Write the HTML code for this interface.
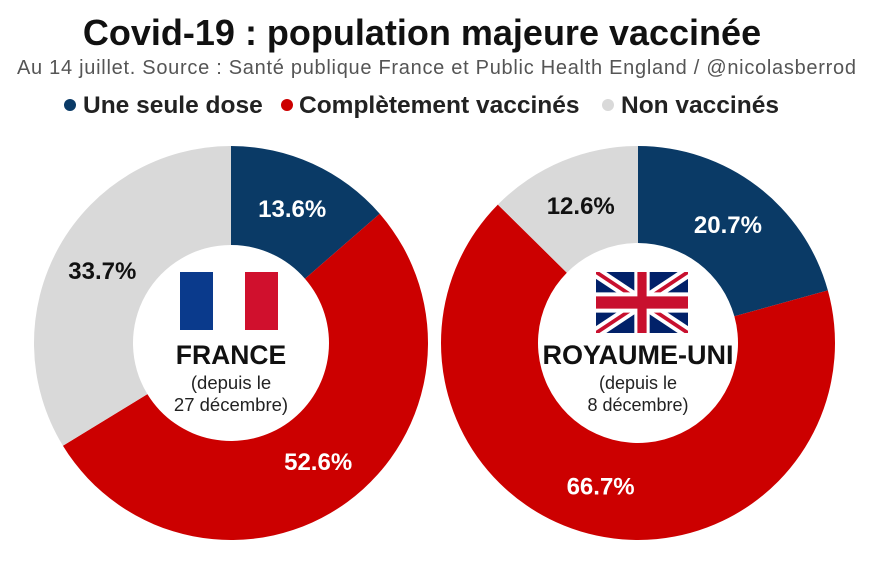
<!DOCTYPE html>
<html><head><meta charset="utf-8"><style>
body{margin:0;background:#fff;width:873px;height:556px;overflow:hidden;font-family:"Liberation Sans",Arial,sans-serif}
</style></head><body>
<svg width="873" height="556" font-family="Liberation Sans, Arial, sans-serif">
<text x="422" y="45" text-anchor="middle" font-size="36" font-weight="bold" fill="#111">Covid-19 : population majeure vaccinée</text>
<text x="17" y="74" font-size="20" textLength="839" lengthAdjust="spacing" fill="#555">Au 14 juillet. Source : Santé publique France et Public Health England / @nicolasberrod</text>
<g font-size="24.5" font-weight="bold" fill="#222">
<circle cx="70" cy="105" r="6" fill="#0a3a66"/>
<text x="83" y="113">Une seule dose</text>
<circle cx="287" cy="105" r="6" fill="#cc0000"/>
<text x="299" y="113">Complètement vaccinés</text>
<circle cx="608" cy="105" r="6" fill="#d9d9d9"/>
<text x="621" y="113">Non vaccinés</text>
</g>
<g id="donuts"></g>
<g>
<rect x="180" y="272" width="33" height="58" fill="#0a3a8c"/><rect x="213" y="272" width="32" height="58" fill="#fff"/><rect x="245" y="272" width="33" height="58" fill="#d0102d"/>
<text x="231" y="364" text-anchor="middle" font-size="26.5" font-weight="bold" fill="#111">FRANCE</text>
<text x="231" y="389" text-anchor="middle" font-size="18.5" fill="#222">(depuis le</text>
<text x="231" y="411" text-anchor="middle" font-size="18.5" fill="#222">27 décembre)</text>
</g>
<g>
<svg x="596" y="272" width="92" height="61" viewBox="0 0 60 30" preserveAspectRatio="none">
<rect width="60" height="30" fill="#012169"/>
<path d="M0,0 L60,30 M60,0 L0,30" stroke="#fff" stroke-width="6"/>
<path d="M0,0 L60,30 M60,0 L0,30" stroke="#c8102e" stroke-width="2"/>
<path d="M30,0 V30 M0,15 H60" stroke="#fff" stroke-width="10"/>
<path d="M30,0 V30 M0,15 H60" stroke="#c8102e" stroke-width="6"/>
</svg>
<text x="638" y="364" text-anchor="middle" font-size="27" font-weight="bold" fill="#111">ROYAUME-UNI</text>
<text x="638" y="389" text-anchor="middle" font-size="18" fill="#222">(depuis le</text>
<text x="638" y="411" text-anchor="middle" font-size="18" fill="#222">8 décembre)</text>
</g>
</svg>
<script>
const categories=["Une seule dose","Complètement vaccinés","Non vaccinés"];
const franceValues=[13.6,52.6,33.7];
const ukValues=[20.7,66.7,12.6];
const colors=["#0a3a66","#cc0000","#d9d9d9"];
const textColors=["#fff","#fff","#111"];
const NS="http://www.w3.org/2000/svg";
const g=document.getElementById("donuts");
function donut(vals,cx,cy,ro,ri,name){
  const tot=vals.reduce((a,b)=>a+b,0);let acc=0;
  vals.forEach((v,i)=>{
    const a0=acc/tot*2*Math.PI;acc+=v;const a1=acc/tot*2*Math.PI;
    const p=(a,r)=>[cx+r*Math.sin(a),cy-r*Math.cos(a)];
    const lg=(a1-a0)>Math.PI?1:0;
    const [x0,y0]=p(a0,ro),[x1,y1]=p(a1,ro),[x2,y2]=p(a1,ri),[x3,y3]=p(a0,ri);
    const path=document.createElementNS(NS,"path");
    path.setAttribute("d",`M${x0},${y0}A${ro},${ro} 0 ${lg} 1 ${x1},${y1}L${x2},${y2}A${ri},${ri} 0 ${lg} 0 ${x3},${y3}Z`);
    path.setAttribute("fill",colors[i]);
    
    
    g.appendChild(path);
    const am=(a0+a1)/2,[lx,ly]=p(am,(ro+ri)/2);
    const t=document.createElementNS(NS,"text");
    t.setAttribute("x",lx);t.setAttribute("y",ly+8);
    t.setAttribute("text-anchor","middle");t.setAttribute("font-size","24");t.setAttribute("font-weight","bold");
    t.setAttribute("fill",textColors[i]);
    t.textContent=v.toFixed(1)+"%";
    
    
    g.appendChild(t);
  });
}
donut(franceValues,231,343,197,98,"france");
donut(ukValues,638,343,197,100,"uk");
</script>
</body></html>
